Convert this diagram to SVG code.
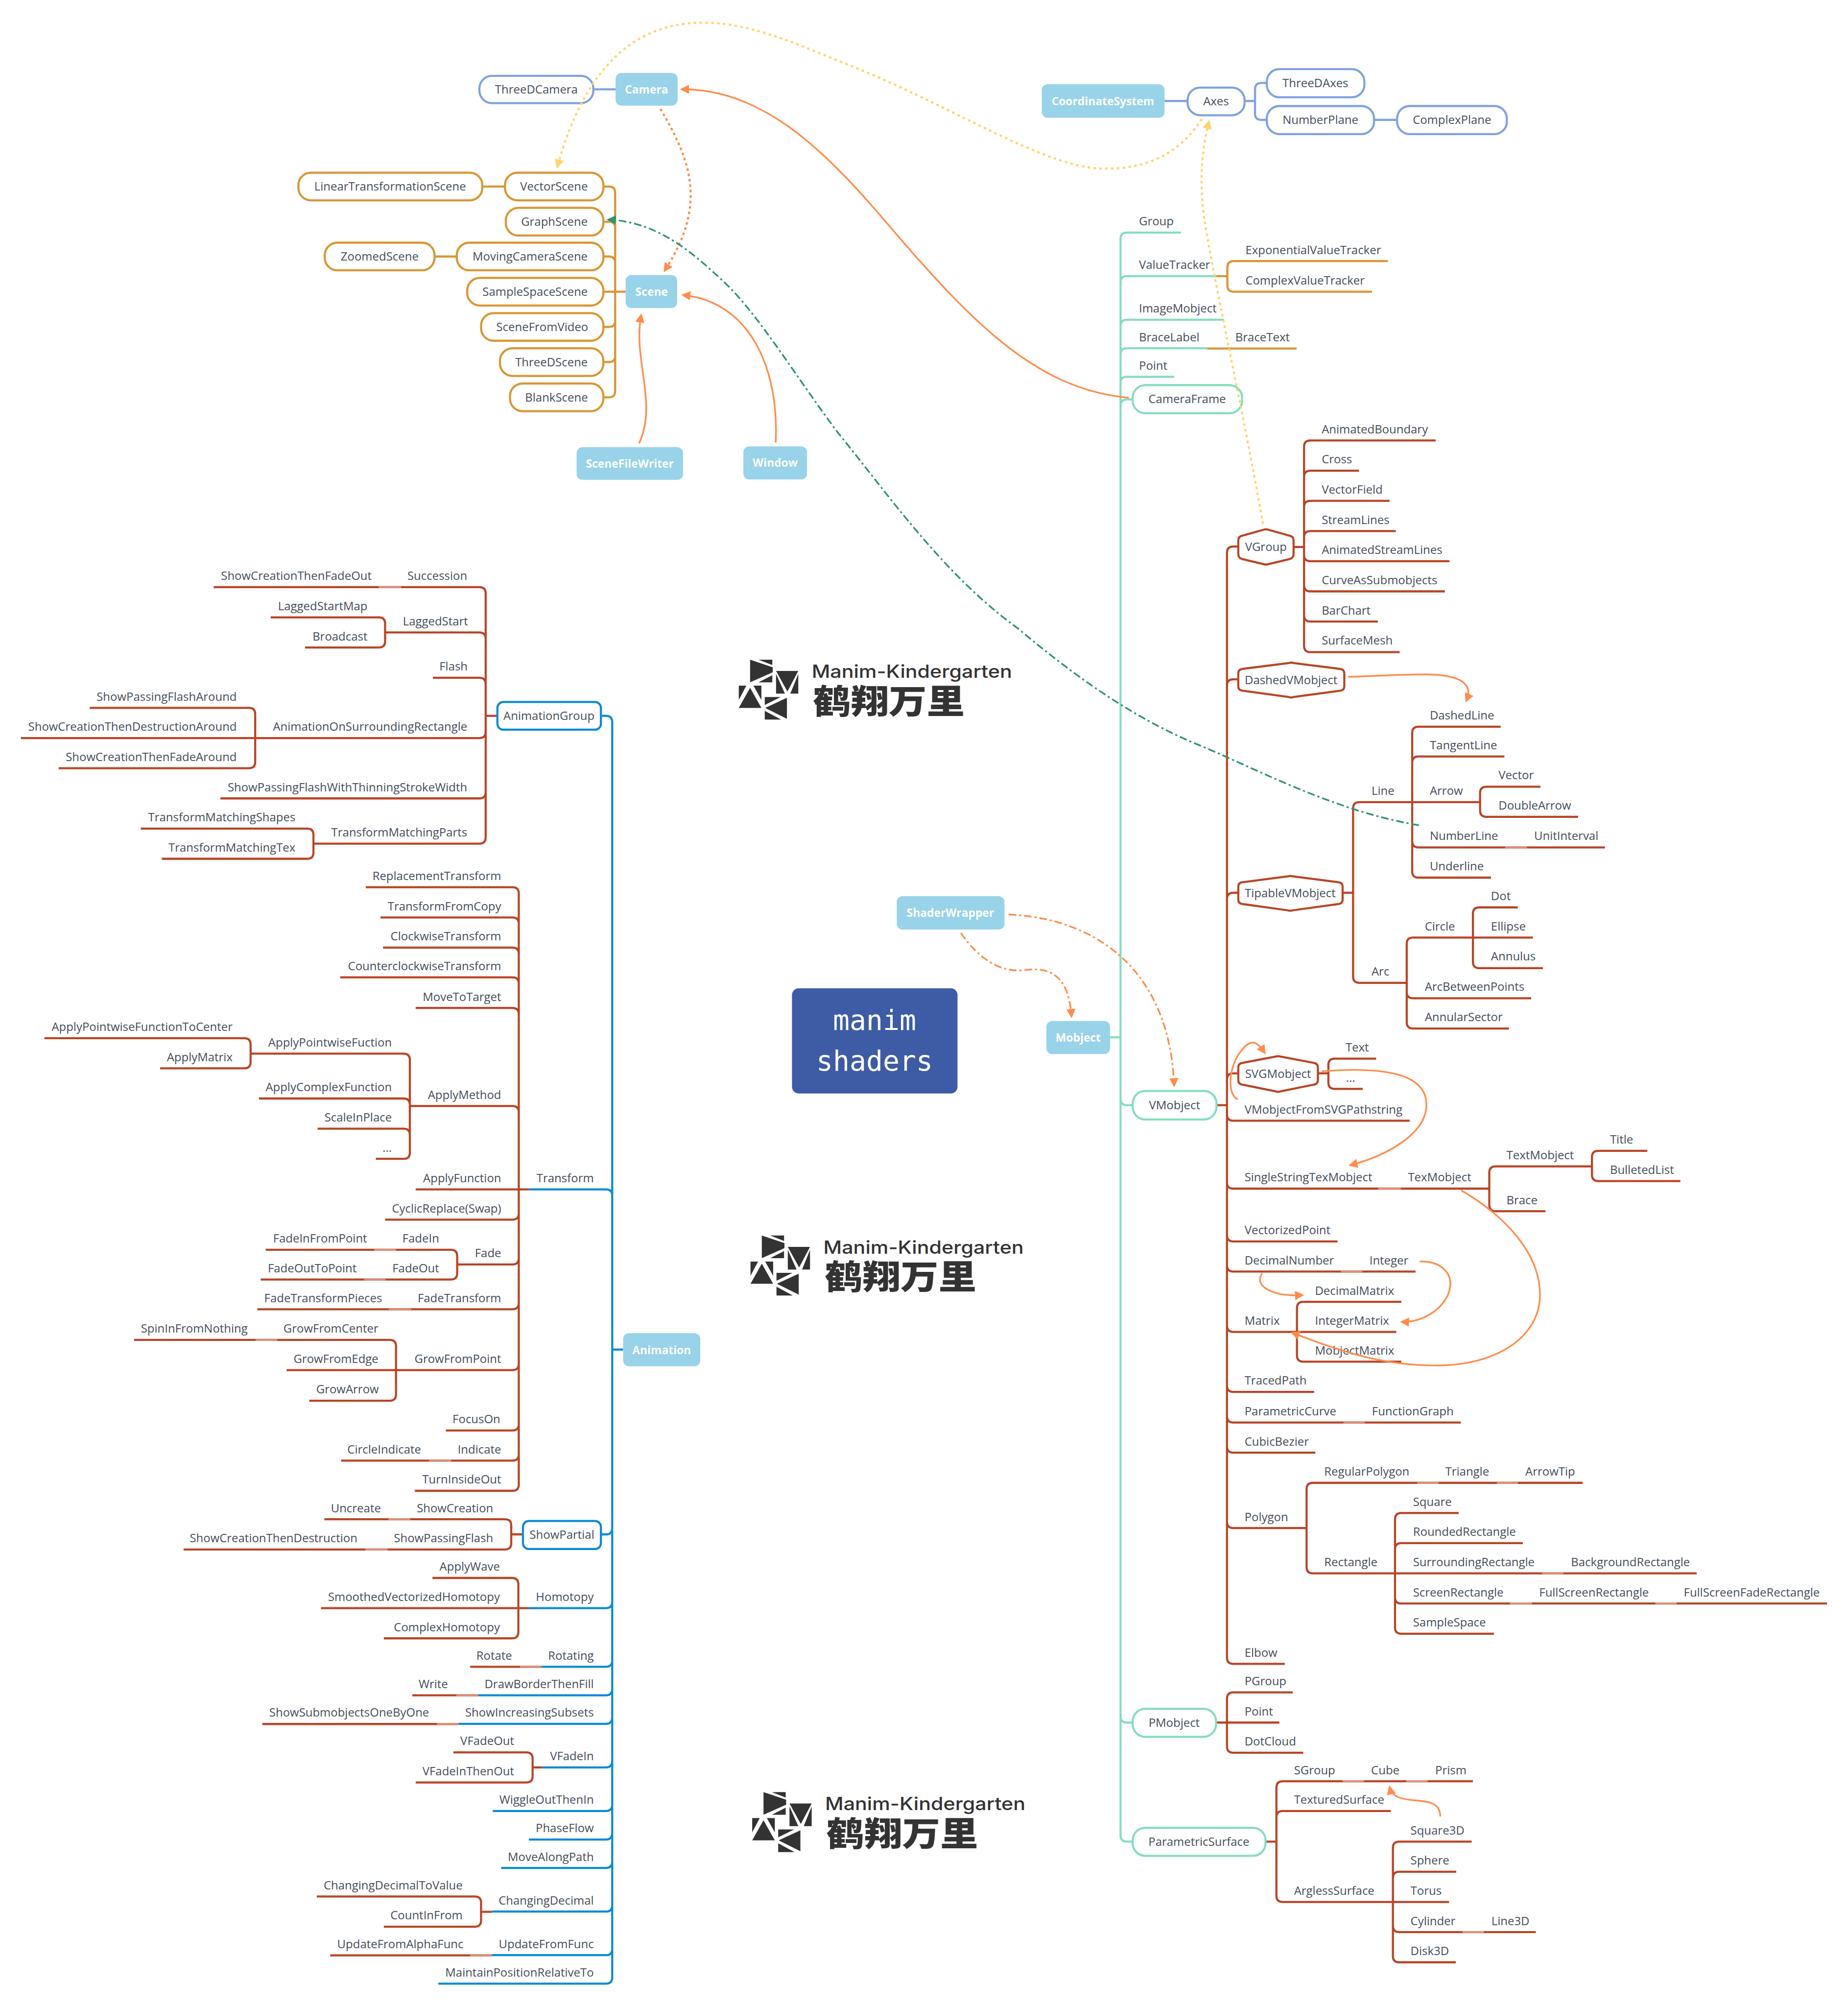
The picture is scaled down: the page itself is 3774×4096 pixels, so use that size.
<svg xmlns="http://www.w3.org/2000/svg" xmlns:xlink="http://www.w3.org/1999/xlink" width="3774" height="4096" viewBox="0 0 3774 4096">
<style>
text{font-family:"Open Sans","Noto Sans",sans-serif}
.t{font-size:28px;fill:#454d59}
.e{text-anchor:end}
.m{text-anchor:middle}
.b{font-size:26.7px;font-weight:700;fill:#fff;text-anchor:middle}
.r{stroke:#b94426;fill:none;stroke-width:5}
.j{stroke:#d98f7a;fill:none;stroke-width:5}
.g{stroke:#86dcc0;fill:none;stroke-width:5}
.u{stroke:#0a8ad6;fill:none;stroke-width:5}
.a{stroke:#d99533;fill:none;stroke-width:5}
.p{stroke:#7fa2e0;fill:none;stroke-width:5}
.box{fill:#98d3e9}
.rf{fill:#fff;stroke:#b94426;stroke-width:5;stroke-linejoin:round}
.ga{fill:#fff;stroke:#86dcc0;stroke-width:5}
.aa{fill:#fff;stroke:#d99533;stroke-width:5}
.pa{fill:#fff;stroke:#7fa2e0;stroke-width:5}
.ua{fill:#fff;stroke:#0a8ad6;stroke-width:5}
.x{fill:none;stroke-width:4}
.o{stroke:#ff8c4d;marker-end:url(#ao)}
.y{stroke:#ffd36e;stroke-width:5;stroke-dasharray:6 8;marker-end:url(#ay)}
.od{stroke:#ff8c4d;stroke-width:5;stroke-dasharray:6 7;marker-end:url(#ao)}
.odd{stroke:#ff8c4d;stroke-dasharray:18 7 5 7;marker-end:url(#ao)}
.gd{stroke:#2f9472;stroke-dasharray:18 7 5 7;marker-end:url(#ag)}
.lt{font-size:43px;font-weight:500;fill:#333;font-family:Inter,"Open Sans",sans-serif}
.lc{font-size:80px;font-weight:900;fill:#333;font-family:"Noto Sans CJK SC",sans-serif}
</style>
<defs>
<marker id="ao" viewBox="0 0 10 10" refX="8" refY="5" markerWidth="22" markerHeight="22" markerUnits="userSpaceOnUse" orient="auto"><path d="M0 0L10 5L0 10Z" fill="#ff8c4d"/></marker>
<marker id="ay" viewBox="0 0 10 10" refX="8" refY="5" markerWidth="22" markerHeight="22" markerUnits="userSpaceOnUse" orient="auto"><path d="M0 0L10 5L0 10Z" fill="#ffd36e"/></marker>
<marker id="ag" viewBox="0 0 10 10" refX="8" refY="5" markerWidth="22" markerHeight="22" markerUnits="userSpaceOnUse" orient="auto"><path d="M0 0L10 5L0 10Z" fill="#2f9472"/></marker>
<g id="logo-icon" fill="#333">
<path d="M27 0L81 18V30L27 54Z"/><path d="M47 0H80V13Z"/><path d="M47 54H80V37Z"/>
<path d="M89 27H142L116 76Z"/><path d="M89 34V81H110Z"/><path d="M142 34V81H123Z"/>
<path d="M27 67L54 115H0Z"/><path d="M0 62H18L0 96Z"/><path d="M35 62H54V96Z"/>
<path d="M63 115L115 91V141Z"/><path d="M62 89H100L62 108Z"/><path d="M62 122L101 143H62Z"/>
</g>
</defs>
<g transform="scale(.85578)">
<g id="connectors">
<path class="a" d="M1151 445H1205M1037 612H1090M1440 445H1453Q1468 445 1468 460V933Q1468 948 1453 948H1440M1468 544Q1468 529 1453 529H1440M1468 627Q1468 612 1453 612H1440M1440 696H1493M1468 765Q1468 780 1453 780H1440M1468 849Q1468 864 1453 864H1440"/>
<path class="p" d="M1416 213H1469M2779 241H2834M2970 241H2995M3023 198H3010Q2995 198 2995 213V271Q2995 286 3010 286H3023M3279 286H3334"/>
<path class="g" d="M2818 555H2689Q2674 555 2674 570V4379Q2674 4394 2689 4394H2703M2674 674Q2674 659 2689 659H2902M2674 778Q2674 763 2689 763H2921M2674 846Q2674 831 2689 831H2881M2674 914Q2674 899 2689 899H2802M2674 968Q2674 953 2689 953H2703M2649 2475H2674M2674 2622Q2674 2637 2689 2637H2703M2674 4095Q2674 4110 2689 4110H2703"/>
<path class="a" d="M3312 623H2944Q2929 623 2929 638V681Q2929 696 2944 696H3274M2902 659H2929M2881 831.5H3094"/>
<path class="r" d="M2903 2637H2928M2943 1304Q2928 1304 2928 1319V3955Q2928 3970 2943 3970H3066M2943 1304H2955M2928 1636Q2928 1621 2943 1621H2955M2928 2145Q2928 2130 2943 2130H2955M2928 2576Q2928 2561 2943 2561H2955M2928 2659Q2928 2674 2943 2674H3364M2928 2821Q2928 2836 2943 2836H3554M2928 2947Q2928 2962 2943 2962H3192M2928 3019Q2928 3034 2943 3034H3378M2928 3163Q2928 3178 2943 3178H3332M2928 3306Q2928 3321 2943 3321H3136M2928 3379Q2928 3394 2943 3394H3486M2928 3451Q2928 3466 2943 3466H3139M2928 3631Q2928 3646 2943 3646H3118"/>
<path class="r" d="M3087 1305H3112M3426 1051H3127Q3112 1051 3112 1066V1541Q3112 1556 3127 1556H3340M3112 1138Q3112 1123 3127 1123H3243M3112 1210Q3112 1195 3127 1195H3316M3112 1282Q3112 1267 3127 1267H3331M3112 1324Q3112 1339 3127 1339H3459M3112 1396Q3112 1411 3127 1411H3448M3112 1468Q3112 1483 3127 1483H3288"/>
<path class="r" d="M3204 2130H3229M3370 1914H3244Q3229 1914 3229 1929V2330Q3229 2345 3244 2345H3357M3581 1734H3385Q3370 1734 3370 1749V2079Q3370 2094 3385 2094H3558M3370 1820Q3370 1805 3385 1805H3590M3370 1914H3532M3370 2007Q3370 2022 3385 2022H3830M3676 1877H3547Q3532 1877 3532 1892V1934Q3532 1949 3547 1949H3766M3515 2237H3372Q3357 2237 3357 2252V2439Q3357 2454 3372 2454H3601M3357 2367Q3357 2382 3372 2382H3654M3622 2165H3530Q3515 2165 3515 2180V2295Q3515 2310 3530 2310H3682M3515 2237H3658"/>
<path class="r" d="M3145 2561H3170M3284 2526H3185Q3170 2526 3170 2541V2583Q3170 2598 3185 2598H3252M3799 2783H3569Q3554 2783 3554 2798V2875Q3554 2890 3569 2890H3688M3931 2746H3814Q3799 2746 3799 2761V2803Q3799 2818 3814 2818H4010M3344 3106H3110Q3095 3106 3095 3121V3234Q3095 3249 3110 3249H3344"/>
<path class="r" d="M3777 3538H3133Q3118 3538 3118 3553V3739Q3118 3754 3133 3754H3329M3481 3610H3344Q3329 3610 3329 3625V3883Q3329 3898 3344 3898H3565M3329 3697Q3329 3682 3344 3682H3634M3329 3754H4049M3329 3811Q3329 3826 3344 3826H4360"/>
<path class="r" d="M2902 4110H3053M3085 4038H2943Q2928 4038 2928 4053V4167Q2928 4182 2943 4182H3110M3020 4394H3046M3515 4250H3061Q3046 4250 3046 4265V4523Q3046 4538 3061 4538H3324M3046 4336Q3046 4321 3061 4321H3319M3512 4394H3339Q3324 4394 3324 4409V4667Q3324 4682 3339 4682H3474M3324 4481Q3324 4466 3339 4466H3475M3324 4538H3458M3324 4595Q3324 4610 3339 4610H3665"/>
<path class="r" d="M510 1401H1144Q1159 1401 1159 1416V1998Q1159 2013 1144 2013H748M1159 1524Q1159 1509 1144 1509H919M1159 1632Q1159 1617 1144 1617H1033M1159 1746Q1159 1761 1144 1761H609M1159 1890Q1159 1905 1144 1905H526M1159 1708H1187M646 1473H904Q919 1473 919 1488V1530Q919 1545 904 1545H728M214 1689H594Q609 1689 609 1704V1818Q609 1833 594 1833H140M50 1761H609M336 1977H733Q748 1977 748 1992V2034Q748 2049 733 2049H386"/>
<path class="r" d="M873 2117H1223Q1238 2117 1238 2132V3542Q1238 3557 1223 3557H990M1238 2204Q1238 2189 1223 2189H908M1238 2276Q1238 2261 1223 2261H914M1238 2347Q1238 2332 1223 2332H812M1238 2420Q1238 2405 1223 2405H992M1238 2654Q1238 2639 1223 2639H978M992 2838H1263M1238 2895Q1238 2910 1223 2910H919M1238 3002Q1238 3017 1223 3017H1091M1238 3109Q1238 3124 1223 3124H614M1238 3254Q1238 3269 1223 3269H945M1238 3398Q1238 3413 1223 3413H1064M1238 3470Q1238 3485 1223 3485H814"/>
<path class="r" d="M598 2514H963Q978 2514 978 2529V2750Q978 2765 963 2765H897M978 2636Q978 2621 963 2621H618M978 2708Q978 2693 963 2693H758M106 2477H583Q598 2477 598 2492V2534Q598 2549 583 2549H382M634 2982H1076Q1091 2982 1091 2997V3038Q1091 3053 1076 3053H622M320 3197H930Q945 3197 945 3212V3327Q945 3342 930 3342H738M684 3269H945"/>
<path class="r" d="M774 3625H1205Q1220 3625 1220 3640V3682Q1220 3697 1205 3697H438M1220 3661H1248M1032 3765H1222Q1237 3765 1237 3780V3894Q1237 3909 1222 3909H916M766 3837H1262M1122 3977H1292M984 4045H1141M626 4113.5H1094M1082 4181H1256Q1271 4181 1271 4196V4238Q1271 4253 1256 4253H992M1271 4217H1295M756 4525H1133Q1148 4525 1148 4540V4582Q1148 4597 1133 4597H916M1148 4561.5H1174M788 4665.5H1174"/>
<path class="u" d="M1434 1708H1446Q1461 1708 1461 1723V4718Q1461 4733 1446 4733H1046M1461 2853Q1461 2838 1446 2838H1263M1461 3220H1487M1461 3646Q1461 3661 1446 3661H1434M1461 3822Q1461 3837 1446 3837H1262M1461 3962Q1461 3977 1446 3977H1292M1461 4030Q1461 4045 1446 4045H1141M1461 4098Q1461 4113 1446 4113H1094M1461 4202Q1461 4217 1446 4217H1295M1461 4306Q1461 4321 1446 4321H1176M1461 4374Q1461 4389 1446 4389H1262M1461 4442Q1461 4457 1446 4457H1196M1461 4546Q1461 4561 1446 4561H1174M1461 4650Q1461 4665 1446 4665H1174"/>
<path class="j" d="M904 1401H957M869 3053H920M893 2982H945M928 3124.6H981M610 3197H662M1024 3485H1077M927 3625H979M872 3697H925M1241 3977H1292M1089 4045H1141M1043 4113.5H1094M1122 4665.5H1174M3289 2836H3343M3200 3034H3251M3206 3394H3257M3382 3538H3433M3572 3538H3622M3680 3754H3731M3603 3826H3656M3950 3826H4001M3204 4250H3255M3356 4250H3407M3490 4610H3541M3592 2022H3644"/>
</g>

<g id="n-manim"><rect x="1890" y="2358" width="395" height="251" rx="16" fill="#3d5ca5"/><text x="2087" y="2457" font-size="66" fill="#fff" text-anchor="middle" style="font-family:'DejaVu Sans Mono',monospace">manim</text><text x="2087" y="2554" font-size="66" fill="#fff" text-anchor="middle" style="font-family:'DejaVu Sans Mono',monospace">shaders</text></g>

<g id="logo-1"><use xlink:href="#logo-icon" href="#logo-icon" x="1763" y="1574"/><text class="lt" x="1937" y="1617" textLength="478" lengthAdjust="spacingAndGlyphs">Manim-Kindergarten</text><text class="lc" x="1940" y="1702" textLength="362" lengthAdjust="spacingAndGlyphs">鹤翔万里</text></g>
<g id="logo-2"><use xlink:href="#logo-icon" href="#logo-icon" x="1791" y="2948"/><text class="lt" x="1965" y="2991" textLength="478" lengthAdjust="spacingAndGlyphs">Manim-Kindergarten</text><text class="lc" x="1968" y="3076" textLength="362" lengthAdjust="spacingAndGlyphs">鹤翔万里</text></g>
<g id="logo-3"><use xlink:href="#logo-icon" href="#logo-icon" x="1795" y="4276"/><text class="lt" x="1969" y="4319" textLength="478" lengthAdjust="spacingAndGlyphs">Manim-Kindergarten</text><text class="lc" x="1972" y="4404" textLength="362" lengthAdjust="spacingAndGlyphs">鹤翔万里</text></g>

<g id="n-Camera"><rect class="box" x="1469" y="174" width="148" height="78" rx="14"/><text class="b" x="1543" y="223">Camera</text></g>
<g id="n-Scene"><rect class="box" x="1493" y="656" width="123" height="79" rx="14"/><text class="b" x="1555" y="706">Scene</text></g>
<g id="n-SceneFileWriter"><rect class="box" x="1376" y="1067" width="254" height="78" rx="14"/><text class="b" x="1503" y="1116">SceneFileWriter</text></g>
<g id="n-Window"><rect class="box" x="1774" y="1065" width="152" height="79" rx="14"/><text class="b" x="1850" y="1114">Window</text></g>
<g id="n-CoordinateSystem"><rect class="box" x="2486" y="201" width="293" height="80" rx="14"/><text class="b" x="2632" y="251">CoordinateSystem</text></g>
<g id="n-ShaderWrapper"><rect class="box" x="2140" y="2138" width="257" height="80" rx="14"/><text class="b" x="2268" y="2188">ShaderWrapper</text></g>
<g id="n-Mobject"><rect class="box" x="2497" y="2436" width="152" height="79" rx="14"/><text class="b" x="2573" y="2486">Mobject</text></g>
<g id="n-Animation"><rect class="box" x="1487" y="3181" width="184" height="79" rx="14"/><text class="b" x="1579" y="3231">Animation</text></g>

<g id="n-ThreeDCamera"><rect class="pa" x="1144" y="181" width="272" height="65" rx="30"/><text class="t m" x="1280" y="223">ThreeDCamera</text></g>
<g id="n-Axes"><rect class="pa" x="2834" y="209" width="136" height="66" rx="30"/><text class="t m" x="2902" y="251">Axes</text></g>
<g id="n-ThreeDAxes"><rect class="pa" x="3023" y="165" width="233" height="67" rx="30"/><text class="t m" x="3139" y="208">ThreeDAxes</text></g>
<g id="n-NumberPlane"><rect class="pa" x="3023" y="253" width="256" height="67" rx="30"/><text class="t m" x="3151" y="296">NumberPlane</text></g>
<g id="n-ComplexPlane"><rect class="pa" x="3334" y="253" width="262" height="67" rx="30"/><text class="t m" x="3465" y="296">ComplexPlane</text></g>

<g id="n-LinearTransformationScene"><rect class="aa" x="712" y="412" width="439" height="66" rx="30"/><text class="t m" x="931" y="455">LinearTransformationScene</text></g>
<g id="n-VectorScene"><rect class="aa" x="1205" y="412" width="235" height="66" rx="30"/><text class="t m" x="1322" y="455">VectorScene</text></g>
<g id="n-GraphScene"><rect class="aa" x="1207" y="496" width="233" height="66" rx="30"/><text class="t m" x="1323" y="539">GraphScene</text></g>
<g id="n-ZoomedScene"><rect class="aa" x="775" y="579" width="262" height="66" rx="30"/><text class="t m" x="906" y="622">ZoomedScene</text></g>
<g id="n-MovingCameraScene"><rect class="aa" x="1090" y="579" width="350" height="66" rx="30"/><text class="t m" x="1265" y="622">MovingCameraScene</text></g>
<g id="n-SampleSpaceScene"><rect class="aa" x="1115" y="663" width="325" height="66" rx="30"/><text class="t m" x="1277" y="706">SampleSpaceScene</text></g>
<g id="n-SceneFromVideo"><rect class="aa" x="1148" y="747" width="292" height="66" rx="30"/><text class="t m" x="1294" y="790">SceneFromVideo</text></g>
<g id="n-ThreeDScene"><rect class="aa" x="1193" y="831" width="247" height="66" rx="30"/><text class="t m" x="1316" y="874">ThreeDScene</text></g>
<g id="n-BlankScene"><rect class="aa" x="1217" y="915" width="223" height="66" rx="30"/><text class="t m" x="1328" y="958">BlankScene</text></g>

<g id="n-CameraFrame"><rect class="ga" x="2703" y="919" width="261" height="67" rx="30"/><text class="t m" x="2833" y="962">CameraFrame</text></g>
<g id="n-VMobject"><rect class="ga" x="2703" y="2603" width="200" height="68" rx="30"/><text class="t m" x="2803" y="2647">VMobject</text></g>
<g id="n-PMobject"><rect class="ga" x="2703" y="4077" width="199" height="67" rx="30"/><text class="t m" x="2802" y="4120">PMobject</text></g>
<g id="n-ParametricSurface"><rect class="ga" x="2703" y="4361" width="317" height="67" rx="30"/><text class="t m" x="2861" y="4404">ParametricSurface</text></g>

<g id="n-AnimationGroup"><rect class="ua" x="1187" y="1675" width="247" height="66" rx="14"/><text class="t m" x="1310" y="1718">AnimationGroup</text></g>
<g id="n-ShowPartial"><rect class="ua" x="1248" y="3629" width="186" height="67" rx="14"/><text class="t m" x="1341" y="3672">ShowPartial</text></g>

<g id="n-VGroup"><path class="rf" d="M2955 1290Q2955 1280 2965 1278L3015 1264Q3021 1262 3027 1264L3077 1278Q3087 1280 3087 1290V1322Q3087 1332 3077 1334L3027 1346Q3021 1348 3015 1346L2965 1334Q2955 1332 2955 1322Z"/><text class="t m" x="3021" y="1315">VGroup</text></g>
<g id="n-DashedVMobject"><path class="rf" d="M2955 1607Q2955 1597 2965 1596L3075 1582Q3081 1580 3087 1582L3198 1596Q3208 1597 3208 1607V1637Q3208 1647 3198 1648L3087 1663Q3081 1665 3075 1663L2965 1648Q2955 1647 2955 1637Z"/><text class="t m" x="3081" y="1632">DashedVMobject</text></g>
<g id="n-TipableVMobject"><path class="rf" d="M2955 2116Q2955 2106 2965 2105L3073 2091Q3079 2089 3085 2091L3194 2105Q3204 2106 3204 2116V2146Q3204 2156 3194 2157L3085 2172Q3079 2174 3073 2172L2965 2157Q2955 2156 2955 2146Z"/><text class="t m" x="3079" y="2141">TipableVMobject</text></g>
<g id="n-SVGMobject"><path class="rf" d="M2955 2547Q2955 2537 2965 2536L3044 2521Q3050 2519 3056 2521L3135 2536Q3145 2537 3145 2547V2577Q3145 2587 3135 2588L3056 2604Q3050 2606 3044 2604L2965 2588Q2955 2587 2955 2577Z"/><text class="t m" x="3050" y="2572">SVGMobject</text></g>

<g id="labels-mobject">
<g id="n-Group"><text class="t" x="2718" y="538">Group</text></g>
<g id="n-ValueTracker"><text class="t" x="2718" y="642">ValueTracker</text></g>
<g id="n-ExponentialValueTracker"><text class="t" x="2972" y="606">ExponentialValueTracker</text></g>
<g id="n-ComplexValueTracker"><text class="t" x="2972" y="679">ComplexValueTracker</text></g>
<g id="n-ImageMobject"><text class="t" x="2718" y="746">ImageMobject</text></g>
<g id="n-BraceLabel"><text class="t" x="2718" y="814">BraceLabel</text></g>
<g id="n-BraceText"><text class="t" x="2948" y="814">BraceText</text></g>
<g id="n-Point"><text class="t" x="2718" y="882">Point</text></g>
<g id="n-AnimatedBoundary"><text class="t" x="3154" y="1034">AnimatedBoundary</text></g>
<g id="n-Cross"><text class="t" x="3154" y="1106">Cross</text></g>
<g id="n-VectorField"><text class="t" x="3154" y="1178">VectorField</text></g>
<g id="n-StreamLines"><text class="t" x="3154" y="1250">StreamLines</text></g>
<g id="n-AnimatedStreamLines"><text class="t" x="3154" y="1322">AnimatedStreamLines</text></g>
<g id="n-CurveAsSubmobjects"><text class="t" x="3154" y="1394">CurveAsSubmobjects</text></g>
<g id="n-BarChart"><text class="t" x="3154" y="1466">BarChart</text></g>
<g id="n-SurfaceMesh"><text class="t" x="3154" y="1538">SurfaceMesh</text></g>
<g id="n-DashedLine"><text class="t" x="3412" y="1716">DashedLine</text></g>
<g id="n-TangentLine"><text class="t" x="3412" y="1788">TangentLine</text></g>
<g id="n-Line"><text class="t" x="3273" y="1896">Line</text></g>
<g id="n-Arrow"><text class="t" x="3412" y="1896">Arrow</text></g>
<g id="n-Vector"><text class="t" x="3576" y="1859">Vector</text></g>
<g id="n-DoubleArrow"><text class="t" x="3576" y="1931">DoubleArrow</text></g>
<g id="n-NumberLine"><text class="t" x="3412" y="2004">NumberLine</text></g>
<g id="n-UnitInterval"><text class="t" x="3661" y="2004">UnitInterval</text></g>
<g id="n-Underline"><text class="t" x="3412" y="2076">Underline</text></g>
<g id="n-Dot"><text class="t" x="3558" y="2148">Dot</text></g>
<g id="n-Circle"><text class="t" x="3400" y="2220">Circle</text></g>
<g id="n-Ellipse"><text class="t" x="3558" y="2220">Ellipse</text></g>
<g id="n-Annulus"><text class="t" x="3558" y="2292">Annulus</text></g>
<g id="n-Arc"><text class="t" x="3273" y="2328">Arc</text></g>
<g id="n-ArcBetweenPoints"><text class="t" x="3400" y="2364">ArcBetweenPoints</text></g>
<g id="n-AnnularSector"><text class="t" x="3400" y="2436">AnnularSector</text></g>
<g id="n-Text"><text class="t" x="3211" y="2509">Text</text></g>
<g id="n-dots1"><text class="t" x="3212" y="2581">...</text></g>
<g id="n-VMobjectFromSVGPathstring"><text class="t" x="2970" y="2657">VMobjectFromSVGPathstring</text></g>
<g id="n-SingleStringTexMobject"><text class="t" x="2970" y="2819">SingleStringTexMobject</text></g>
<g id="n-TexMobject"><text class="t" x="3360" y="2819">TexMobject</text></g>
<g id="n-TextMobject"><text class="t" x="3595" y="2766">TextMobject</text></g>
<g id="n-Title"><text class="t" x="3842" y="2729">Title</text></g>
<g id="n-BulletedList"><text class="t" x="3842" y="2801">BulletedList</text></g>
<g id="n-Brace"><text class="t" x="3595" y="2873">Brace</text></g>
<g id="n-VectorizedPoint"><text class="t" x="2970" y="2945">VectorizedPoint</text></g>
<g id="n-DecimalNumber"><text class="t" x="2970" y="3017">DecimalNumber</text></g>
<g id="n-Integer"><text class="t" x="3268" y="3017">Integer</text></g>
<g id="n-DecimalMatrix"><text class="t" x="3138" y="3089">DecimalMatrix</text></g>
<g id="n-Matrix"><text class="t" x="2970" y="3161">Matrix</text></g>
<g id="n-IntegerMatrix"><text class="t" x="3138" y="3161">IntegerMatrix</text></g>
<g id="n-MobjectMatrix"><text class="t" x="3138" y="3232">MobjectMatrix</text></g>
<g id="n-TracedPath"><text class="t" x="2970" y="3304">TracedPath</text></g>
<g id="n-ParametricCurve"><text class="t" x="2970" y="3377">ParametricCurve</text></g>
<g id="n-FunctionGraph"><text class="t" x="3274" y="3377">FunctionGraph</text></g>
<g id="n-CubicBezier"><text class="t" x="2970" y="3449">CubicBezier</text></g>
<g id="n-RegularPolygon"><text class="t" x="3160" y="3521">RegularPolygon</text></g>
<g id="n-Triangle"><text class="t" x="3449" y="3521">Triangle</text></g>
<g id="n-ArrowTip"><text class="t" x="3640" y="3521">ArrowTip</text></g>
<g id="n-Square"><text class="t" x="3372" y="3593">Square</text></g>
<g id="n-Polygon"><text class="t" x="2970" y="3629">Polygon</text></g>
<g id="n-RoundedRectangle"><text class="t" x="3372" y="3665">RoundedRectangle</text></g>
<g id="n-Rectangle"><text class="t" x="3160" y="3737">Rectangle</text></g>
<g id="n-SurroundingRectangle"><text class="t" x="3372" y="3737">SurroundingRectangle</text></g>
<g id="n-BackgroundRectangle"><text class="t" x="3749" y="3737">BackgroundRectangle</text></g>
<g id="n-ScreenRectangle"><text class="t" x="3372" y="3809">ScreenRectangle</text></g>
<g id="n-FullScreenRectangle"><text class="t" x="3673" y="3809">FullScreenRectangle</text></g>
<g id="n-FullScreenFadeRectangle"><text class="t" x="4018" y="3809">FullScreenFadeRectangle</text></g>
<g id="n-SampleSpace"><text class="t" x="3372" y="3881">SampleSpace</text></g>
<g id="n-Elbow"><text class="t" x="2970" y="3953">Elbow</text></g>
<g id="n-PGroup"><text class="t" x="2970" y="4021">PGroup</text></g>
<g id="n-PPoint"><text class="t" x="2970" y="4093">Point</text></g>
<g id="n-DotCloud"><text class="t" x="2970" y="4165">DotCloud</text></g>
<g id="n-SGroup"><text class="t" x="3088" y="4233">SGroup</text></g>
<g id="n-Cube"><text class="t" x="3272" y="4233">Cube</text></g>
<g id="n-Prism"><text class="t" x="3425" y="4233">Prism</text></g>
<g id="n-TexturedSurface"><text class="t" x="3088" y="4304">TexturedSurface</text></g>
<g id="n-Square3D"><text class="t" x="3366" y="4377">Square3D</text></g>
<g id="n-Sphere"><text class="t" x="3366" y="4449">Sphere</text></g>
<g id="n-ArglessSurface"><text class="t" x="3088" y="4521">ArglessSurface</text></g>
<g id="n-Torus"><text class="t" x="3366" y="4521">Torus</text></g>
<g id="n-Cylinder"><text class="t" x="3366" y="4593">Cylinder</text></g>
<g id="n-Line3D"><text class="t" x="3559" y="4593">Line3D</text></g>
<g id="n-Disk3D"><text class="t" x="3366" y="4665">Disk3D</text></g>
</g>

<g id="labels-animation">
<g id="n-ShowCreationThenFadeOut"><text class="t e" x="887" y="1384">ShowCreationThenFadeOut</text></g>
<g id="n-Succession"><text class="t e" x="1115" y="1384">Succession</text></g>
<g id="n-LaggedStartMap"><text class="t e" x="877" y="1456">LaggedStartMap</text></g>
<g id="n-LaggedStart"><text class="t e" x="1117" y="1492">LaggedStart</text></g>
<g id="n-Broadcast"><text class="t e" x="877" y="1528">Broadcast</text></g>
<g id="n-Flash"><text class="t e" x="1116" y="1600">Flash</text></g>
<g id="n-ShowPassingFlashAround"><text class="t e" x="565" y="1672">ShowPassingFlashAround</text></g>
<g id="n-ShowCreationThenDestructionAround"><text class="t e" x="565" y="1744">ShowCreationThenDestructionAround</text></g>
<g id="n-AnimationOnSurroundingRectangle"><text class="t e" x="1115" y="1744">AnimationOnSurroundingRectangle</text></g>
<g id="n-ShowCreationThenFadeAround"><text class="t e" x="565" y="1816">ShowCreationThenFadeAround</text></g>
<g id="n-ShowPassingFlashWithThinningStrokeWidth"><text class="t e" x="1115" y="1888">ShowPassingFlashWithThinningStrokeWidth</text></g>
<g id="n-TransformMatchingShapes"><text class="t e" x="705" y="1960">TransformMatchingShapes</text></g>
<g id="n-TransformMatchingParts"><text class="t e" x="1115" y="1996">TransformMatchingParts</text></g>
<g id="n-TransformMatchingTex"><text class="t e" x="705" y="2032">TransformMatchingTex</text></g>
<g id="n-ReplacementTransform"><text class="t e" x="1196" y="2100">ReplacementTransform</text></g>
<g id="n-TransformFromCopy"><text class="t e" x="1196" y="2172">TransformFromCopy</text></g>
<g id="n-ClockwiseTransform"><text class="t e" x="1196" y="2244">ClockwiseTransform</text></g>
<g id="n-CounterclockwiseTransform"><text class="t e" x="1196" y="2315">CounterclockwiseTransform</text></g>
<g id="n-MoveToTarget"><text class="t e" x="1196" y="2388">MoveToTarget</text></g>
<g id="n-ApplyPointwiseFunctionToCenter"><text class="t e" x="555" y="2460">ApplyPointwiseFunctionToCenter</text></g>
<g id="n-ApplyPointwiseFuction"><text class="t e" x="935" y="2497">ApplyPointwiseFuction</text></g>
<g id="n-ApplyMatrix"><text class="t e" x="555" y="2532">ApplyMatrix</text></g>
<g id="n-ApplyComplexFunction"><text class="t e" x="935" y="2604">ApplyComplexFunction</text></g>
<g id="n-ApplyMethod"><text class="t e" x="1196" y="2622">ApplyMethod</text></g>
<g id="n-ScaleInPlace"><text class="t e" x="935" y="2676">ScaleInPlace</text></g>
<g id="n-dots2"><text class="t e" x="935" y="2748">...</text></g>
<g id="n-ApplyFunction"><text class="t e" x="1196" y="2821">ApplyFunction</text></g>
<g id="n-Transform"><text class="t e" x="1417" y="2821">Transform</text></g>
<g id="n-CyclicReplaceSwap"><text class="t e" x="1196" y="2893">CyclicReplace(Swap)</text></g>
<g id="n-FadeInFromPoint"><text class="t e" x="876" y="2965">FadeInFromPoint</text></g>
<g id="n-FadeIn"><text class="t e" x="1048" y="2965">FadeIn</text></g>
<g id="n-Fade"><text class="t e" x="1196" y="3000">Fade</text></g>
<g id="n-FadeOutToPoint"><text class="t e" x="851" y="3036">FadeOutToPoint</text></g>
<g id="n-FadeOut"><text class="t e" x="1048" y="3036">FadeOut</text></g>
<g id="n-FadeTransformPieces"><text class="t e" x="912" y="3107">FadeTransformPieces</text></g>
<g id="n-FadeTransform"><text class="t e" x="1196" y="3107">FadeTransform</text></g>
<g id="n-SpinInFromNothing"><text class="t e" x="591" y="3180">SpinInFromNothing</text></g>
<g id="n-GrowFromCenter"><text class="t e" x="903" y="3180">GrowFromCenter</text></g>
<g id="n-GrowFromEdge"><text class="t e" x="903" y="3252">GrowFromEdge</text></g>
<g id="n-GrowFromPoint"><text class="t e" x="1196" y="3252">GrowFromPoint</text></g>
<g id="n-GrowArrow"><text class="t e" x="904" y="3325">GrowArrow</text></g>
<g id="n-FocusOn"><text class="t e" x="1194" y="3396">FocusOn</text></g>
<g id="n-CircleIndicate"><text class="t e" x="1005" y="3468">CircleIndicate</text></g>
<g id="n-Indicate"><text class="t e" x="1196" y="3468">Indicate</text></g>
<g id="n-TurnInsideOut"><text class="t e" x="1196" y="3540">TurnInsideOut</text></g>
<g id="n-Uncreate"><text class="t e" x="909" y="3608">Uncreate</text></g>
<g id="n-ShowCreation"><text class="t e" x="1177" y="3608">ShowCreation</text></g>
<g id="n-ShowCreationThenDestruction"><text class="t e" x="853" y="3680">ShowCreationThenDestruction</text></g>
<g id="n-ShowPassingFlash"><text class="t e" x="1177" y="3680">ShowPassingFlash</text></g>
<g id="n-ApplyWave"><text class="t e" x="1193" y="3748">ApplyWave</text></g>
<g id="n-SmoothedVectorizedHomotopy"><text class="t e" x="1193" y="3820">SmoothedVectorizedHomotopy</text></g>
<g id="n-Homotopy"><text class="t e" x="1417" y="3820">Homotopy</text></g>
<g id="n-ComplexHomotopy"><text class="t e" x="1193" y="3892">ComplexHomotopy</text></g>
<g id="n-Rotate"><text class="t e" x="1222" y="3960">Rotate</text></g>
<g id="n-Rotating"><text class="t e" x="1417" y="3960">Rotating</text></g>
<g id="n-Write"><text class="t e" x="1069" y="4028">Write</text></g>
<g id="n-DrawBorderThenFill"><text class="t e" x="1417" y="4028">DrawBorderThenFill</text></g>
<g id="n-ShowSubmobjectsOneByOne"><text class="t e" x="1024" y="4096">ShowSubmobjectsOneByOne</text></g>
<g id="n-ShowIncreasingSubsets"><text class="t e" x="1417" y="4096">ShowIncreasingSubsets</text></g>
<g id="n-VFadeOut"><text class="t e" x="1227" y="4164">VFadeOut</text></g>
<g id="n-VFadeIn"><text class="t e" x="1417" y="4200">VFadeIn</text></g>
<g id="n-VFadeInThenOut"><text class="t e" x="1227" y="4236">VFadeInThenOut</text></g>
<g id="n-WiggleOutThenIn"><text class="t e" x="1417" y="4304">WiggleOutThenIn</text></g>
<g id="n-PhaseFlow"><text class="t e" x="1417" y="4372">PhaseFlow</text></g>
<g id="n-MoveAlongPath"><text class="t e" x="1417" y="4440">MoveAlongPath</text></g>
<g id="n-ChangingDecimalToValue"><text class="t e" x="1104" y="4508">ChangingDecimalToValue</text></g>
<g id="n-ChangingDecimal"><text class="t e" x="1417" y="4544">ChangingDecimal</text></g>
<g id="n-CountInFrom"><text class="t e" x="1104" y="4580">CountInFrom</text></g>
<g id="n-UpdateFromAlphaFunc"><text class="t e" x="1106" y="4648">UpdateFromAlphaFunc</text></g>
<g id="n-UpdateFromFunc"><text class="t e" x="1417" y="4648">UpdateFromFunc</text></g>
<g id="n-MaintainPositionRelativeTo"><text class="t e" x="1417" y="4716">MaintainPositionRelativeTo</text></g>
</g>

<g id="links">
<path class="x y" d="M2868 284C2800 390 2700 405 2624 402C2480 395 2250 240 2000 145C1880 95 1780 54 1678 54C1500 54 1390 180 1330 398"/>
<path class="x y" d="M3014 1250C2970 1000 2920 780 2880 560C2860 450 2865 370 2885 290"/>
<path class="x od" d="M1576 260C1660 400 1680 500 1586 646"/>
<path class="x o" d="M2694 949C2480 930 2330 780 2140 560C1980 370 1830 213 1627 213"/>
<path class="x o" d="M1525 1058C1570 960 1510 860 1530 752"/>
<path class="x o" d="M1851 1056C1860 880 1790 720 1630 704"/>
<path class="x gd" d="M3386 1969C3180 1935 2990 1830 2850 1773C2700 1710 2560 1610 2430 1500C2250 1370 2120 1180 2000 1033C1900 900 1810 750 1728 673C1650 600 1570 530 1452 524"/>
<path class="x o" d="M3217 1615C3300 1612 3350 1609 3400 1609C3470 1609 3520 1625 3499 1672"/>
<path class="x odd" d="M2407 2182C2600 2190 2790 2300 2802 2590"/>
<path class="x odd" d="M2293 2226C2330 2280 2380 2320 2440 2315C2510 2305 2550 2330 2557 2425"/>
<path class="x o" d="M2954 2623C2925 2610 2935 2540 2960 2510C2985 2475 3000 2485 3018 2512"/>
<path class="x o" d="M3154 2556C3300 2545 3404 2560 3404 2636C3404 2700 3320 2755 3222 2780"/>
<path class="x o" d="M3388 3010C3430 3008 3461 3030 3461 3063C3461 3110 3405 3156 3345 3154"/>
<path class="x o" d="M3012 3038C2990 3070 3040 3094 3108 3090"/>
<path class="x o" d="M3487 2840C3590 2900 3675 2990 3675 3089C3675 3190 3570 3260 3423 3258C3300 3258 3200 3225 3084 3180"/>
<path class="x o" d="M3437 4334C3437 4270 3330 4320 3316 4264"/>
</g>
</g>
</svg>
